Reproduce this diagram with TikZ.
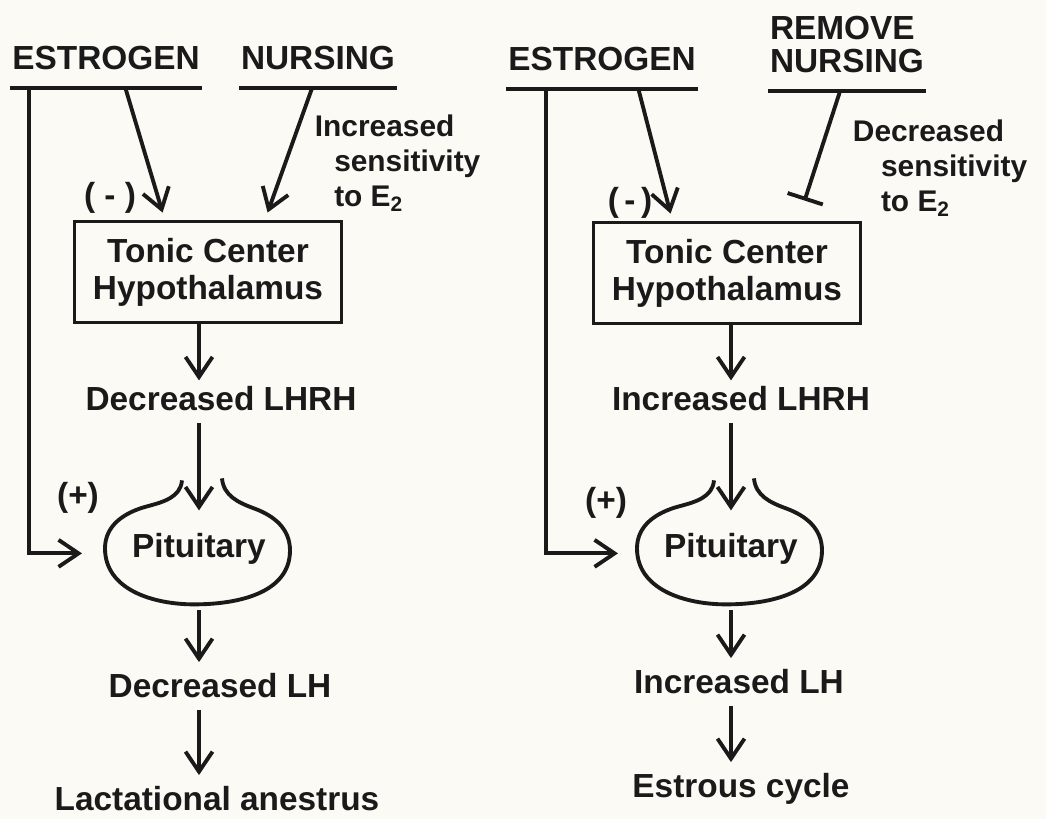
\documentclass[tikz,border=0pt]{standalone}
\usepackage{fontspec}
\setmainfont{Liberation Sans}
\usepackage{xcolor}
\usetikzlibrary{arrows.meta,calc}
\definecolor{paper}{HTML}{FBFAF5}
\definecolor{ink}{HTML}{1A1A1A}
\tikzset{
  pituitary/.pic={
    \draw[y=0.02cm] (-17,68) to[out=-95,in=15] (-52,42) to[out=195,in=90] (-94,0)
      to[out=-90,in=180] (-5,-56) to[out=0,in=-90] (91,-2)
      to[out=90,in=-20] (55,40) to[out=160,in=-85] (23,70);
  },
}

\begin{document}
\begin{tikzpicture}[
  x=0.02cm, y=-0.02cm,
  line width=2.2pt, draw=ink, text=ink,
  >={Straight Barb[length=4mm,width=5.4mm]},
  every node/.style={font=\fontsize{19}{21}\selectfont\bfseries, inner sep=0pt},
  head/.style={anchor=south, inner ysep=9pt},
  center box/.style={draw, align=center, minimum width=5.34cm, minimum height=2.02cm},
  note/.style={font=\fontsize{17}{20}\selectfont\bfseries, align=left, anchor=north west},
  flow/.style={->, shorten <=6pt, shorten >=5pt}
]
\fill[paper] (0,0) rectangle (1046,819);
\useasboundingbox (0,0) rectangle (1046,819);

% Left panel
\node[head] (estL) at (106,88) {ESTROGEN};
\node[head] (nurL) at (318,88) {NURSING};
\node[center box] (boxL) at (208,272) {Tonic Center\\Hypothalamus};
\node[anchor=base] (decL) at (221,410) {Decreased LHRH};
\node[anchor=base] (pitL) at (199,557) {Pituitary};
\node[anchor=base] (decLH) at (220,697) {Decreased LH};
\node[anchor=base] (lacL) at (217,810) {Lactational anestrus};
\node (minL) at (110,198) {( - )};
\node (plusL) at (78,498) {(+)};
\node[note] (senL) at (313,113) {Increased\\\hspace*{11pt}sensitivity\\\hspace*{11pt}to E\textsubscript{2}};
\pic at (pitL.center) {pituitary};

\draw (estL.south west) -- (estL.south east);
\draw (nurL.south west) -- (nurL.south east);
\draw[->] ($(estL.south west)+(115,0)$) -- ($(boxL.north west)+(90,-7)$);
\draw[->] ($(nurL.south west)+(73,0)$) -- ($(boxL.north west)+(195,-7)$);
\draw[->] ($(estL.south west)+(19,0)$) |- ($(pitL.center)+(-117,5)$);
\draw[->, shorten >=2pt] (boxL.south -| pitL) -- (decL.north -| pitL);
\draw[->, shorten <=6pt] (decL.south -| pitL) -- ($(pitL.center)+(0,-38)$);
\draw[->, shorten >=5pt] ($(pitL.center)+(0,62)$) -- (decLH.north -| pitL);
\draw[flow] (decLH.south -| pitL) -- (lacL.north -| pitL);

% Right panel
\node[head] (estR) at (602,89) {ESTROGEN};
\node[head, align=left] (remR) at (847,91) {REMOVE\\[-2pt]NURSING};
\node[center box] (boxR) at (727,273) {Tonic Center\\Hypothalamus};
\node[anchor=base] (incR) at (741,410) {Increased LHRH};
\node[anchor=base] (pitR) at (731,557) {Pituitary};
\node[anchor=base] (incLH) at (739,693) {Increased LH};
\node[anchor=base] (estC) at (741,797) {Estrous cycle};
\node (minR) at (630,203) {(\,-\,)};
\node (plusR) at (606,503) {(+)};
\node[note] (senR) at (851,118) {Decreased\\\hspace*{16pt}sensitivity\\\hspace*{16pt}to E\textsubscript{2}};
\pic at (pitR.center) {pituitary};

\draw (estR.south west) -- (estR.south east);
\draw (remR.south west) -- (remR.south east);
\draw[->] ($(estR.south west)+(132,0)$) -- ($(boxR.north west)+(79,-7)$);
\draw[-{Bar[width=7.4mm]}] ($(remR.south west)+(72,0)$) -- ($(boxR.north west)+(213,-20)$);
\draw[->] ($(estR.south west)+(40,0)$) |- ($(pitR.center)+(-113,5)$);
\draw[->, shorten >=2pt] (boxR.south -| pitR) -- (incR.north -| pitR);
\draw[->, shorten <=6pt] (incR.south -| pitR) -- ($(pitR.center)+(0,-38)$);
\draw[->, shorten >=5pt] ($(pitR.center)+(0,62)$) -- (incLH.north -| pitR);
\draw[flow] (incLH.south -| pitR) -- (estC.north -| pitR);

\end{tikzpicture}
\end{document}
